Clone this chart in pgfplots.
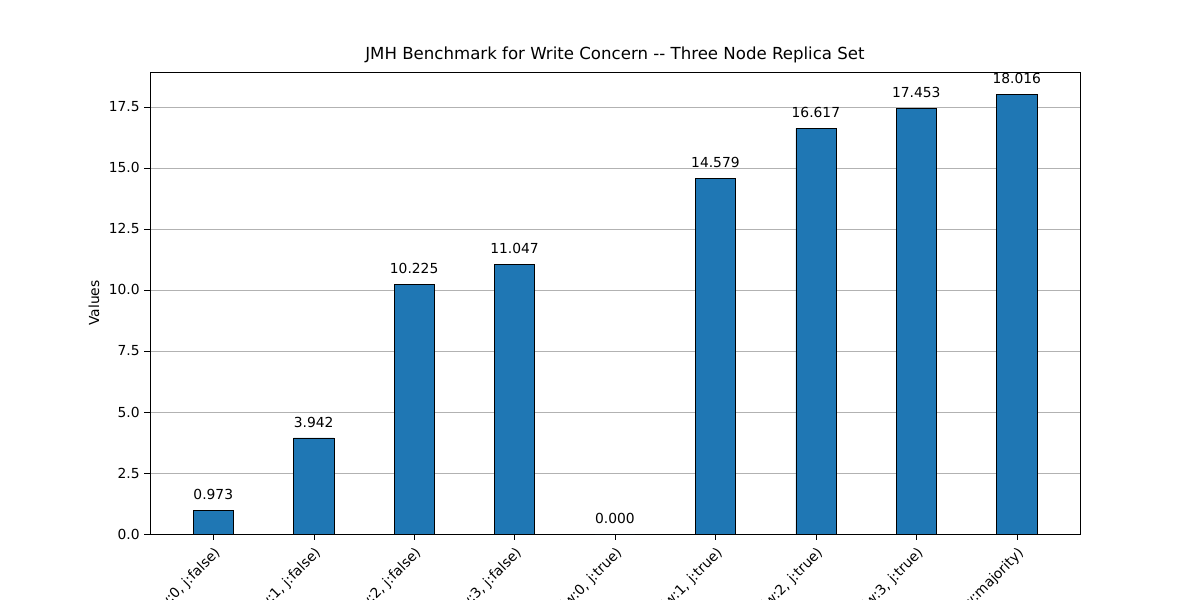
\documentclass[border=0pt]{standalone}
\usepackage{pgfplots}
\pgfplotsset{compat=1.18}
\usepackage{fontspec}
\setmainfont{DejaVu Sans}
\definecolor{mblue}{HTML}{1F77B4}
\begin{document}
\begin{tikzpicture}
\clip (-1.5in,-0.66in) rectangle (10.5in,5.34in);
\begin{axis}[at={(0,0)},anchor=south west,scale only axis,width=9.3in,height=4.62in,
  xmin=-0.63,xmax=8.63,ymin=0,ymax=18.93,
  xtick=data,
  xticklabels={{WriteConcern(w:0, j:false)},{WriteConcern(w:1, j:false)},{WriteConcern(w:2, j:false)},{WriteConcern(w:3, j:false)},{WriteConcern(w:0, j:true)},{WriteConcern(w:1, j:true)},{WriteConcern(w:2, j:true)},{WriteConcern(w:3, j:true)},{WriteConcern(w:majority)}},
  x tick label style={rotate=45,anchor=north east,font=\fontsize{10}{12}\selectfont},
  ytick={0,2.5,...,17.5},
  yticklabel style={font=\fontsize{10}{12}\selectfont},
  /pgf/number format/.cd,fixed,fixed zerofill,precision=1,assume math mode=true,/pgfplots/.cd,
  ymajorgrids,grid style={gray!60},
  tick style={black},major tick length=4pt,tick align=outside,
  xtick pos=bottom,ytick pos=left,
  ylabel={Values},ylabel style={font=\fontsize{10}{12}\selectfont},
  title={JMH Benchmark for Write Concern -{}- Three Node Replica Set},
  title style={font=\fontsize{12}{14}\selectfont,yshift=-3pt}]
\addplot[ybar,bar width=0.4,fill=mblue,draw=black,
  nodes near coords,
  nodes near coords style={font=\fontsize{10}{12}\selectfont,/pgf/number format/.cd,fixed,fixed zerofill,precision=3,assume math mode=true,/tikz/yshift=4pt}]
 coordinates {(0,0.973)(1,3.942)(2,10.225)(3,11.047)(4,0.000)(5,14.579)(6,16.617)(7,17.453)(8,18.016)};
\end{axis}
\end{tikzpicture}
\end{document}
